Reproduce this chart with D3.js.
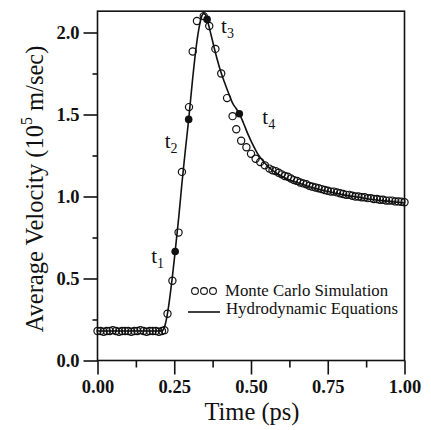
<!DOCTYPE html>
<html>
  <head>
    <meta charset="utf-8">
    <title></title>
    <style>
      body { margin: 0; background: #fff; }
      text { font-family: "Liberation Serif", "Times New Roman", serif; fill: #111; }
    </style>
  </head>
  <body>
    <script src="https://cdn.jsdelivr.net/npm/d3@7"></script>
    <script>
      // Monte Carlo points (time in ps, velocity in 1e5 m/s)
      var mcTime = [0.00, 0.01, 0.02, 0.03, 0.04, 0.05, 0.06, 0.07, 0.08, 0.09, 0.10,
        0.11, 0.12, 0.13, 0.14, 0.15, 0.16, 0.17, 0.18, 0.19, 0.20, 0.21, 0.218,
        0.228, 0.244, 0.264, 0.275, 0.298, 0.31, 0.324, 0.346, 0.364, 0.384, 0.403,
        0.422, 0.44, 0.452, 0.468, 0.485, 0.50, 0.515, 0.53, 0.545, 0.56, 0.57,
        0.58, 0.59, 0.60, 0.61, 0.62, 0.63, 0.64, 0.65, 0.66, 0.67, 0.68, 0.69, 0.70,
        0.71, 0.72, 0.73, 0.74, 0.75, 0.76, 0.77, 0.78, 0.79, 0.80, 0.81, 0.82, 0.83,
        0.84, 0.85, 0.86, 0.87, 0.88, 0.89, 0.90, 0.91, 0.92, 0.93, 0.94, 0.95, 0.96,
        0.97, 0.98, 0.99, 1.00];
      var mcVel = [0.18, 0.18, 0.175, 0.18, 0.18, 0.185, 0.18, 0.175, 0.18, 0.18, 0.18,
        0.175, 0.18, 0.18, 0.185, 0.18, 0.175, 0.18, 0.18, 0.18, 0.175, 0.18, 0.185,
        0.285, 0.486, 0.78, 1.15, 1.545, 1.884, 2.07, 2.10, 2.04, 1.90, 1.75,
        1.60, 1.49, 1.41, 1.34, 1.30, 1.26, 1.23, 1.21, 1.19, 1.17, 1.16,
        1.155, 1.145, 1.135, 1.125, 1.12, 1.11, 1.10, 1.095, 1.085, 1.08, 1.075, 1.065, 1.06,
        1.055, 1.05, 1.045, 1.04, 1.035, 1.03, 1.03, 1.025, 1.02, 1.015, 1.01, 1.01, 1.005,
        1.0, 1.0, 0.995, 0.995, 0.99, 0.99, 0.985, 0.985, 0.98, 0.98, 0.975, 0.975, 0.975,
        0.97, 0.97, 0.968, 0.965];

      // hydrodynamic equations curve
      var hdTime = [0.00, 0.10, 0.20, 0.21, 0.215, 0.22, 0.23, 0.24, 0.253, 0.265, 0.275,
        0.286, 0.297, 0.31, 0.32, 0.33, 0.338, 0.345, 0.351, 0.357, 0.37, 0.385, 0.40,
        0.413, 0.427, 0.44, 0.452, 0.462, 0.475, 0.49, 0.505, 0.522, 0.54, 0.56, 0.585,
        0.615, 0.65, 0.69, 0.75, 0.80, 0.85, 0.90, 0.95, 1.00];
      var hdVel = [0.18, 0.18, 0.18, 0.182, 0.19, 0.215, 0.31, 0.45, 0.665, 0.88, 1.08,
        1.28, 1.47, 1.72, 1.89, 2.02, 2.09, 2.115, 2.11, 2.08, 1.985, 1.87, 1.77,
        1.70, 1.63, 1.57, 1.535, 1.505, 1.45, 1.38, 1.32, 1.26, 1.215, 1.175, 1.14,
        1.11, 1.085, 1.06, 1.03, 1.01, 0.995, 0.98, 0.97, 0.96];

      // marked instants t1..t4
      var markTime = [0.253, 0.297, 0.357, 0.462];
      var markVel = [0.665, 1.47, 2.08, 1.505];
      var markName = ['1', '2', '3', '4'];

      var xTicks = [0, 0.25, 0.5, 0.75, 1.0];
      var xMinor = [0.125, 0.375, 0.625, 0.875];
      var yTicks = [0, 0.5, 1.0, 1.5, 2.0];
      var yMinor = [0.25, 0.75, 1.25, 1.75];

      var legendNames = ['Monte Carlo Simulation', 'Hydrodynamic Equations'];

      var width = 431, height = 430;
      var svg = d3.select('body').append('svg')
        .attr('width', width).attr('height', height);

      var x = d3.scaleLinear().domain([0, 1]).range([97.5, 404.5]);
      var y = d3.scaleLinear().domain([0, 2]).range([360.5, 32.5]);
      var yTop = 2.13;

      // frame
      svg.append('rect')
        .attr('x', x(0)).attr('y', y(yTop))
        .attr('width', x(1) - x(0)).attr('height', y(0) - y(yTop))
        .attr('fill', 'none').attr('stroke', '#111').attr('stroke-width', 1.6);

      // x axis
      svg.append('g').attr('transform', 'translate(0,' + y(0) + ')')
        .call(d3.axisBottom(x).tickValues(xTicks).tickSize(14).tickPadding(5)
          .tickFormat(d3.format('.2f')));
      svg.append('g').attr('transform', 'translate(0,' + y(0) + ')')
        .call(d3.axisBottom(x).tickValues(xMinor).tickSize(7).tickFormat(''));

      // y axis
      svg.append('g').attr('transform', 'translate(' + x(0) + ',0)')
        .call(d3.axisLeft(y).tickValues(yTicks).tickSize(14).tickPadding(4)
          .tickFormat(d3.format('.1f')));
      svg.append('g').attr('transform', 'translate(' + x(0) + ',0)')
        .call(d3.axisLeft(y).tickValues(yMinor).tickSize(5).tickFormat(''));

      svg.selectAll('.domain').remove();
      svg.selectAll('.tick line').attr('stroke', '#111').attr('stroke-width', 1.6);
      svg.selectAll('.tick text')
        .attr('font-family', '"Liberation Serif", serif')
        .attr('font-size', 18.5).attr('font-weight', 'bold').attr('fill', '#111');

      // axis titles
      svg.append('text')
        .attr('x', (x(0) + x(1)) / 2 + 1).attr('y', 420)
        .attr('text-anchor', 'middle').attr('font-size', 24.5)
        .text('Time (ps)');

      var yt = svg.append('text')
        .attr('transform', 'translate(43,' + 189 + ') rotate(-90)')
        .attr('text-anchor', 'middle').attr('font-size', 24.5);
      yt.append('tspan').text('Average Velocity (10');
      yt.append('tspan').attr('font-size', 16).attr('dy', -11).text('5');
      yt.append('tspan').attr('dy', 11).text(' m/sec)');

      // hydrodynamic line
      var line = d3.line()
        .x(function(d, i) { return x(hdTime[i]); })
        .y(function(d, i) { return y(hdVel[i]); })
        .curve(d3.curveMonotoneX);
      svg.append('path').datum(hdTime)
        .attr('d', line)
        .attr('fill', 'none').attr('stroke', '#111').attr('stroke-width', 1.6);

      // Monte Carlo circles
      svg.selectAll('.mc').data(mcTime).enter().append('circle')
        .attr('class', 'mc')
        .attr('cx', function(d) { return x(d); })
        .attr('cy', function(d, i) { return y(mcVel[i]); })
        .attr('r', 3.6)
        .attr('fill', 'none').attr('stroke', '#111').attr('stroke-width', 1.2);

      // marked points
      svg.selectAll('.mark').data(markTime).enter().append('circle')
        .attr('class', 'mark')
        .attr('cx', function(d) { return x(d); })
        .attr('cy', function(d, i) { return y(markVel[i]); })
        .attr('r', 3.8).attr('fill', '#111');

      // t labels (placed beside each marked point)
      var labelDx = [-24, -24, 14, 23];
      var labelDy = [12, 29, 14, 10];
      svg.selectAll('.tlab').data(markTime).enter().append('text')
        .attr('class', 'tlab')
        .attr('x', function(d, i) { return x(d) + labelDx[i]; })
        .attr('y', function(d, i) { return y(markVel[i]) + labelDy[i]; })
        .attr('font-size', 21)
        .each(function(d, i) {
          var t = d3.select(this);
          t.append('tspan').text('t');
          t.append('tspan').attr('font-size', 14).attr('dy', 5).text(markName[i]);
        });

      // legend
      var lg = svg.append('g');
      [195, 204, 213].forEach(function(cx) {
        lg.append('circle').attr('cx', cx).attr('cy', 291).attr('r', 3.4)
          .attr('fill', 'none').attr('stroke', '#111').attr('stroke-width', 1.1);
      });
      lg.append('text').attr('x', 225).attr('y', 296).attr('font-size', 16.8)
        .text(legendNames[0]);
      lg.append('line').attr('x1', 188).attr('x2', 220).attr('y1', 312).attr('y2', 312)
        .attr('stroke', '#111').attr('stroke-width', 1.6);
      lg.append('text').attr('x', 226).attr('y', 314).attr('font-size', 16.8)
        .text(legendNames[1]);
    </script>
  </body>
</html>
